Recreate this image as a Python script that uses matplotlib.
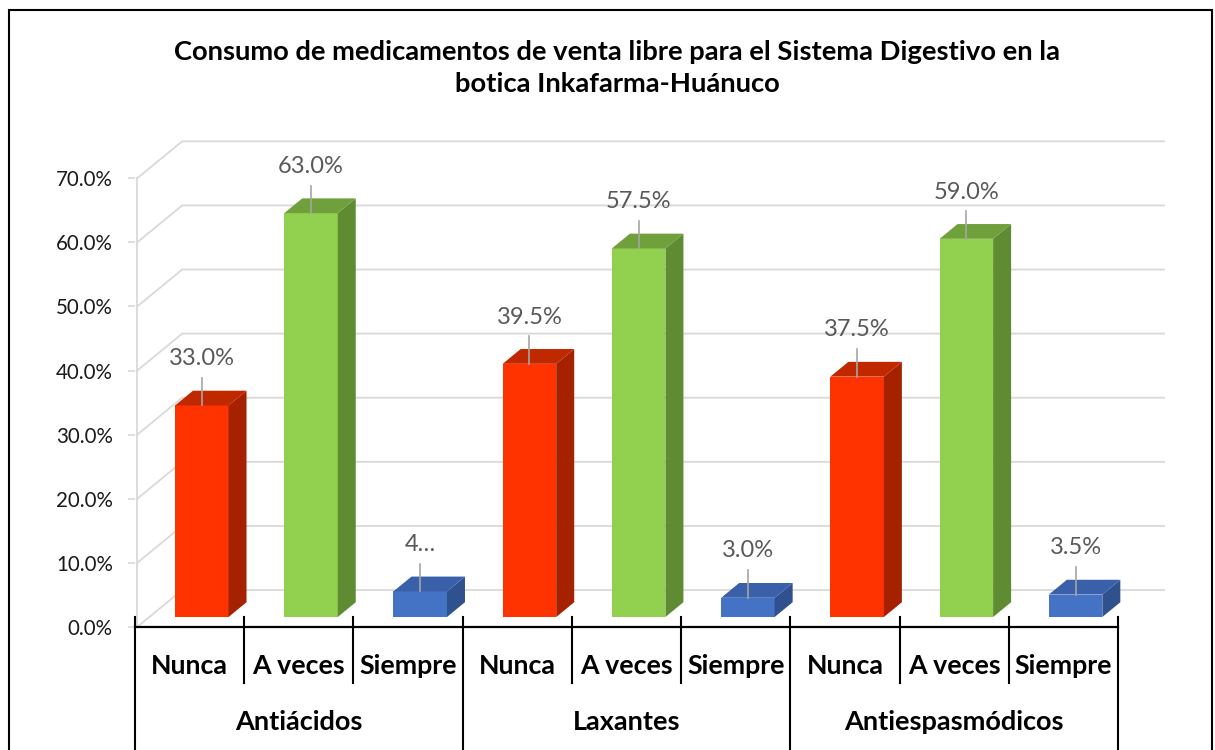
import matplotlib
matplotlib.use("Agg")
import matplotlib.pyplot as plt
from matplotlib.patches import Polygon, Rectangle

plt.rcParams["font.family"] = ["Lato", "DejaVu Sans"]

# data
groups = ["Antiácidos", "Laxantes", "Antiespasmódicos"]
answers = ["Nunca", "A veces", "Siempre"]
antiacidos = [33.0, 63.0, 4.0]
laxantes = [39.5, 57.5, 3.0]
antiespasmodicos = [37.5, 59.0, 3.5]
value_labels = ["33.0%", "63.0%", "4…", "39.5%", "57.5%", "3.0%", "37.5%", "59.0%", "3.5%"]
y_ticks = [0, 10, 20, 30, 40, 50, 60, 70]

title = ("Consumo de medicamentos de venta libre para el Sistema Digestivo en la\n"
         "botica Inkafarma-Huánuco")

front_col = ["#FF3300", "#92D050", "#4472C4"]
side_col = ["#A52100", "#5F8B33", "#2F528F"]
top_col = ["#C02800", "#70A03C", "#3A60AA"]
grid_col = "#D9D9D9"

# fake 3d depth (in data units)
DX, DY = 0.412, 5.77
F1, F2 = 0.27, 0.67
BAR_W = 0.49

fig = plt.figure(figsize=(12.15, 7.5), dpi=100)
ax = fig.add_axes([135 / 1215, 123 / 750, 1030 / 1215, 76 * 6.41 / 750])
ax.set_xlim(0, 9.43)
ax.set_ylim(0, 76)
for s in ax.spines.values():
    s.set_visible(False)
ax.set_xticks([])
ax.set_yticks(y_ticks)
ax.set_yticklabels([f"{t:.1f}%" for t in y_ticks])
ax.tick_params(axis="y", length=5, width=1.2, color=grid_col, pad=11,
               labelsize=14.8, labelcolor="#1A1A1A")

# walls / gridlines
x_wall = 0.02
ax.plot([x_wall, x_wall], [0, 70], color=grid_col, lw=1.3, zorder=1)
for t in y_ticks:
    ax.plot([x_wall, x_wall + DX, 9.43], [t, t + DY, t + DY], color=grid_col, lw=1.3, zorder=1)

# bars
values = antiacidos + laxantes + antiespasmodicos
for i, v in enumerate(values):
    j = i % 3
    left = i + 0.5 - BAR_W / 2 + F1 * DX
    b = F1 * DY
    sdx, sdy = (F2 - F1) * DX, (F2 - F1) * DY
    ax.bar(left, v, width=BAR_W, bottom=b, align="edge", color=front_col[j], zorder=3)
    r = left + BAR_W
    ax.add_patch(Polygon([(r, b), (r + sdx, b + sdy), (r + sdx, b + v + sdy), (r, b + v)],
                         closed=True, facecolor=side_col[j], edgecolor="none", zorder=3))
    ax.add_patch(Polygon([(left, b + v), (r, b + v), (r + sdx, b + v + sdy), (left + sdx, b + v + sdy)],
                         closed=True, facecolor=top_col[j], edgecolor="none", zorder=3))
    cx = left + BAR_W / 2
    ax.plot([cx, cx], [b + v, b + v + 4.3], color="#A6A6A6", lw=1.2, zorder=4)
    ax.text(cx, b + v + 7.3, value_labels[i], ha="center", va="center",
            fontsize=17, color="#595959", zorder=5)

# category axis
ax.plot([0, 9], [0, 0], color="black", lw=1.6, clip_on=False, zorder=4)
for k in range(10):
    low = -25 if k % 3 == 0 else -8.74
    ax.plot([k, k], [1.5, low], color="black", lw=1.5, clip_on=False, zorder=4)
for i in range(9):
    ax.text(i + 0.5, -6.08, answers[i % 3], ha="center", va="center",
            fontsize=19.3, fontweight="bold", color="black", clip_on=False)
for g, name in enumerate(groups):
    ax.text(g * 3 + 1.5, -14.8, name, ha="center", va="center",
            fontsize=19.5, fontweight="bold", color="black", clip_on=False)

fig.text(0.508, 1 - 68 / 750, title, ha="center", va="center", fontsize=19.7,
         fontweight="bold", color="black", linespacing=1.38)

fig.add_artist(Rectangle((9 / 1215, -0.1), 1203 / 1215, 0.1 + 740 / 750,
                         transform=fig.transFigure, fill=False, edgecolor="black", lw=1.5))

fig.savefig("out.png", dpi=100)
